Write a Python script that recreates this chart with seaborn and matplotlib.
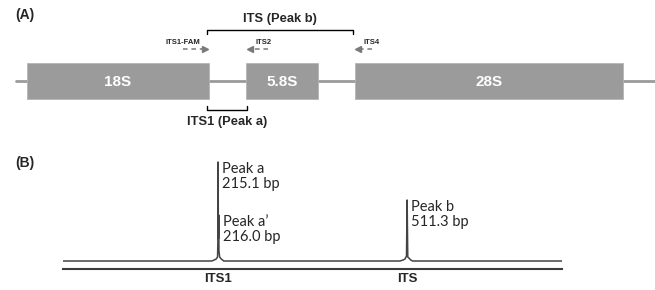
import matplotlib
matplotlib.use("Agg")
import matplotlib.pyplot as plt
import seaborn as sns

# rRNA operon map (diagram units, left to right)
regions = ["18S", "5.8S", "28S"]
region_start = [27, 246, 355]
region_end = [209, 318, 623]
backbone = [16, 655]

# amplicons drawn as brackets
amplicons = ["ITS (Peak b)", "ITS1 (Peak a)"]
amplicon_start = [207, 207]
amplicon_end = [353, 247]

# primers: name, 5' end, 3' end (arrow points to 3' end)
primers = ["ITS1-FAM", "ITS2", "ITS4"]
primer_from = [183, 268, 372]
primer_to = [205, 250, 358]

# capillary electrophoresis trace
trace_bp = [-28, 205, 209, 212, 214.2, 214.7, 215.1, 215.5, 215.8, 216.0,
            216.4, 217.5, 220, 224, 500, 505, 508, 510.3, 511.3, 512.3,
            514, 517, 520, 754]
trace_signal = [0, 0, 1, 2, 4, 18, 99, 22, 30, 46,
                10, 4, 2, 0, 0, 1, 2, 5, 61, 4,
                3, 1, 0, 0]

peak_names = ["Peak a", "Peak a\u2019", "Peak b"]
peak_bp = [215.1, 216.0, 511.3]
peak_height = [99, 46, 61]

tick_names = ["ITS1", "ITS"]
tick_bp = [215.1, 511.3]

sns.set_theme(style="white")
plt.rcParams["font.family"] = ["Lato", "DejaVu Sans"]
bold_font = ["Liberation Sans", "DejaVu Sans"]

fig = plt.figure(figsize=(6.55, 2.9), dpi=100)
grey = "#9b9b9b"

# ---- panel A ----
ax = fig.add_axes([0, 0.5, 1, 0.5])
ax.set_xlim(0, 655)
ax.set_ylim(145, 0)
ax.axis("off")

ax.plot(backbone, [81, 81], color=grey, lw=2, zorder=1)
widths = [e - s for s, e in zip(region_start, region_end)]
ax.barh([81] * len(regions), widths, left=region_start, height=36,
        color=grey, edgecolor="#b5b5b5", linewidth=0.6, zorder=2)
for name, s, e in zip(regions, region_start, region_end):
    ax.text((s + e) / 2, 82, name, color="white", fontsize=11,
            fontweight="bold", family=bold_font, ha="center", va="center",
            zorder=3)

# brackets: ITS above, ITS1 below
for name, s, e, y, d in zip(amplicons, amplicon_start, amplicon_end, [30, 110], [4, -4]):
    ax.plot([s, s, e, e], [y + d, y, y, y + d], color="black", lw=1)
    ty = y - 11 if d > 0 else y + 12
    ax.text((s + e) / 2, ty, name, fontsize=9.3, fontweight="bold",
            family=bold_font, ha="center", va="center")

for name, a, b in zip(primers, primer_from, primer_to):
    y = 49
    ax.plot([a, b], [y, y], color="#7a7a7a", lw=1.1, ls=(0, (3, 2.5)))
    ax.plot([b], [y], marker=">" if b > a else "<", color="#7a7a7a",
            markersize=4.5)
    if b > a:
        ax.text(b - 5, y - 6, name, fontsize=5.5, fontweight="bold",
                family=bold_font, ha="right", va="center")
    else:
        ax.text(b + 5, y - 6, name, fontsize=5.5, fontweight="bold",
                family=bold_font, ha="left", va="center")

ax.text(15, 15, "(A)", fontsize=10, fontweight="bold", family=bold_font,
        ha="left", va="center")

# ---- panel B ----
fig.text(15 / 655, 1 - 163 / 290, "(B)", fontsize=10, fontweight="bold",
         family=bold_font, ha="left", va="center")

axb = fig.add_axes([63 / 655, 21 / 290, 499 / 655, 114 / 290])
sns.lineplot(x=trace_bp, y=trace_signal, sort=False, color="#444444",
             lw=1.1, ax=axb)
axb.set_xlim(-28, 754)
axb.set_ylim(-8, 106)
sns.despine(ax=axb, left=True)
axb.spines["bottom"].set_color("#3c3c3c")
axb.spines["bottom"].set_linewidth(1.5)
axb.set_yticks([])
axb.set_xticks(tick_bp)
axb.set_xticklabels(tick_names, fontsize=9.5, fontweight="bold",
                    family=bold_font)
axb.tick_params(axis="x", length=0, pad=3)
axb.patch.set_alpha(0)

for name, bp, h in zip(peak_names, peak_bp, peak_height):
    axb.annotate(f"{name}\n{bp:.1f} bp", xy=(bp, h), xytext=(3, 0),
                 textcoords="offset points", fontsize=10.5, ha="left",
                 va="top", linespacing=1.05)

fig.savefig("out.png", dpi=100)
